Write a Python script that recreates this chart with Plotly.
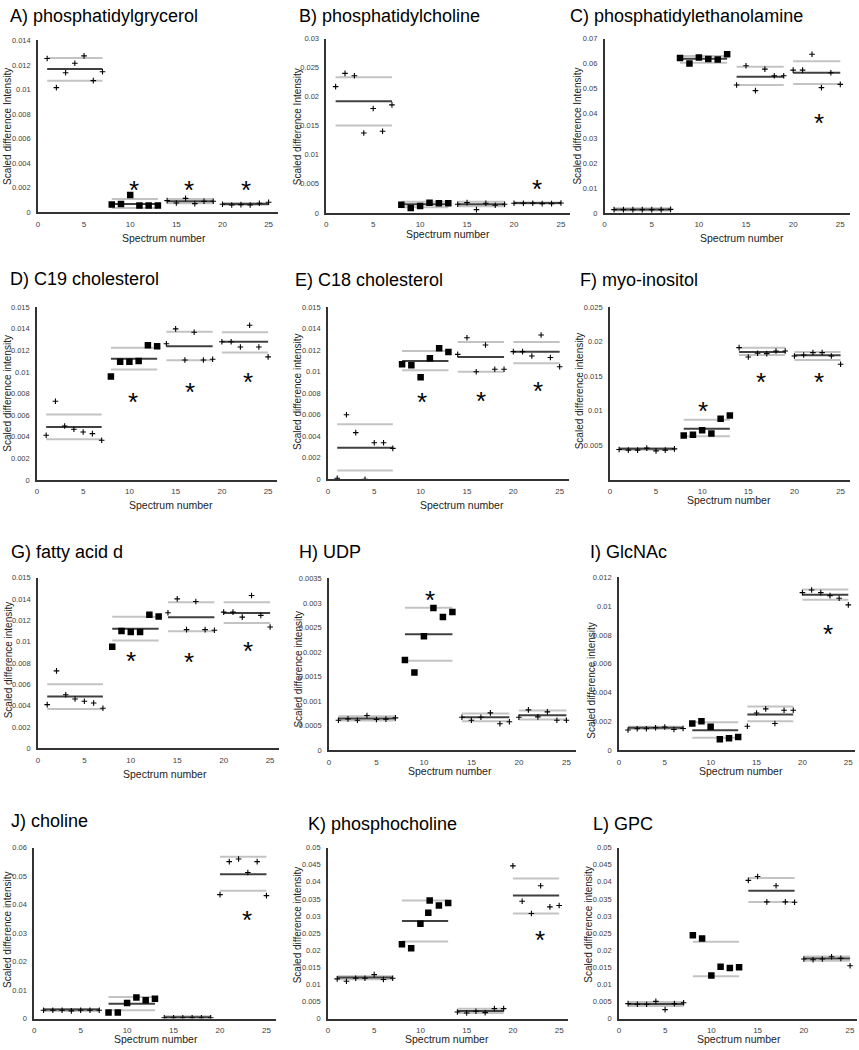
import plotly.graph_objects as go

# spectrum numbers and group boundaries
spectrum = [1, 2, 3, 4, 5, 6, 7, 8, 9, 10, 11, 12, 13,
            14, 15, 16, 17, 18, 19, 20, 21, 22, 23, 24, 25]
group_start = [1, 8, 14, 20]
group_end = [7, 13, 19, 25]

# A) phosphatidylgrycerol
pg = [0.01252, 0.01015, 0.01136, 0.01214, 0.01274, 0.01072, 0.01144,
      0.00062, 0.00067, 0.00140, 0.00054, 0.00054, 0.00054,
      0.00094, 0.00075, 0.00113, 0.00070, 0.00089, 0.00089,
      0.00065, 0.00059, 0.00062, 0.00059, 0.00073, 0.00081]
pg_mean = [0.01166, 0.00067, 0.00089, 0.00067]
pg_hi = [0.01257, 0.00108, 0.00108, 0.00075]
pg_lo = [0.01072, 0.00035, 0.00073, 0.00060]
pg_star_x = [10.45, 16.4, 22.5]
pg_star_y = [0.0023, 0.0023, 0.0023]

# B) phosphatidylcholine
pc = [0.02174, 0.02402, 0.02362, 0.01377, 0.01798, 0.01406, 0.01861,
      0.00142, 0.00085, 0.00120, 0.00176, 0.00165, 0.00165,
      0.00148, 0.00176, 0.00057, 0.00165, 0.00131, 0.00148,
      0.00165, 0.00165, 0.00165, 0.00160, 0.00160, 0.00170]
pc_mean = [0.01924, 0.00150, 0.00148, 0.00170]
pc_hi = [0.02334, 0.00194, 0.00194, 0.00180]
pc_lo = [0.01503, 0.00097, 0.00114, 0.00160]
pc_star_x = [22.5]
pc_star_y = [0.0052]

# C) phosphatidylethanolamine
pe = [0.00133, 0.00130, 0.00133, 0.00130, 0.00133, 0.00130, 0.00140,
      0.06228, 0.06003, 0.06242, 0.06189, 0.06162, 0.06375,
      0.05139, 0.05910, 0.04914, 0.05777, 0.05511, 0.05511,
      0.05737, 0.05737, 0.06375, 0.05033, 0.05631, 0.05166]
pe_mean = [0.00140, 0.06190, 0.05470, 0.05630]
pe_hi = [0.00186, 0.06308, 0.05870, 0.06096]
pe_lo = [0.00093, 0.06029, 0.05140, 0.05179]
pe_star_x = [22.75]
pe_star_y = [0.0385]

# D) C19 cholesterol
c19 = [0.00414, 0.00729, 0.00499, 0.00469, 0.00444, 0.00429, 0.00368,
       0.00959, 0.01094, 0.01094, 0.01103, 0.01247, 0.01238,
       0.01262, 0.01400, 0.01112, 0.01369, 0.01112, 0.01118,
       0.01280, 0.01280, 0.01232, 0.01434, 0.01232, 0.01140]
c19_mean = [0.00490, 0.01124, 0.01238, 0.01280]
c19_hi = [0.00607, 0.01225, 0.01373, 0.01369]
c19_lo = [0.00377, 0.01023, 0.01109, 0.01180]
c19_star_x = [10.43, 16.55, 22.77]
c19_star_y = [0.00781, 0.00873, 0.00965]

# E) C18 cholesterol
c18 = [0.00009, 0.00599, 0.00433, 0.00000, 0.00338, 0.00338, 0.00286,
       0.01068, 0.01059, 0.00946, 0.01124, 0.01216, 0.01182,
       0.01160, 0.01314, 0.00998, 0.01247, 0.01022, 0.01022,
       0.01185, 0.01185, 0.01145, 0.01339, 0.01130, 0.01044]
c18_mean = [0.00292, 0.01099, 0.01136, 0.01185]
c18_hi = [0.00510, 0.01191, 0.01274, 0.01274]
c18_lo = [0.00080, 0.01013, 0.00998, 0.01078]
c18_star_x = [10.11, 16.5, 22.7]
c18_star_y = [0.00771, 0.00786, 0.00875]

# F) myo-inositol
myo = [0.00436, 0.00427, 0.00427, 0.00456, 0.00417, 0.00427, 0.00446,
       0.00638, 0.00652, 0.00715, 0.00667, 0.00882, 0.00930,
       0.01914, 0.01779, 0.01832, 0.01827, 0.01866, 0.01866,
       0.01794, 0.01808, 0.01842, 0.01842, 0.01794, 0.01674]
myo_mean = [0.00446, 0.00739, 0.01851, 0.01803]
myo_hi = [0.00456, 0.00868, 0.01914, 0.01851]
myo_lo = [0.00432, 0.00628, 0.01808, 0.01736]
myo_star_x = [10.09, 16.35, 22.7]
myo_star_y = [0.01089, 0.01496, 0.01496]

# G) fatty acid d
fad = [0.00409, 0.00725, 0.00502, 0.00461, 0.00440, 0.00424, 0.00375,
       0.00951, 0.01099, 0.01090, 0.01090, 0.01251, 0.01236,
       0.01270, 0.01400, 0.01112, 0.01375, 0.01112, 0.01106,
       0.01276, 0.01276, 0.01229, 0.01431, 0.01245, 0.01137]
fad_mean = [0.00486, 0.01121, 0.01229, 0.01267]
fad_hi = [0.00601, 0.01233, 0.01369, 0.01369]
fad_lo = [0.00369, 0.01010, 0.01096, 0.01174]
fad_star_x = [10.03, 16.3, 22.64]
fad_star_y = [0.00873, 0.00867, 0.00966]

# H) UDP
udp = [0.000612, 0.000639, 0.000612, 0.000707, 0.000626, 0.000633, 0.000660,
       0.001837, 0.001581, 0.002322, 0.002894, 0.002712, 0.002813,
       0.000673, 0.000612, 0.000673, 0.000760, 0.000538, 0.000579,
       0.000673, 0.000821, 0.000680, 0.000781, 0.000612, 0.000612]
udp_mean = [0.000646, 0.002362, 0.000673, 0.000713]
udp_hi = [0.000693, 0.002900, 0.000747, 0.000808]
udp_lo = [0.000606, 0.001824, 0.000592, 0.000626]
udp_star_x = [10.68]
udp_star_y = [0.003183]

# I) GlcNAc
glcnac = [0.00140, 0.00149, 0.00149, 0.00156, 0.00161, 0.00144, 0.00151,
          0.00186, 0.00202, 0.00163, 0.00076, 0.00083, 0.00092,
          0.00167, 0.00259, 0.00287, 0.00186, 0.00278, 0.00278,
          0.01094, 0.01112, 0.01094, 0.01073, 0.01055, 0.01009]
glcnac_mean = [0.00156, 0.00138, 0.00248, 0.01080]
glcnac_hi = [0.00163, 0.00195, 0.00303, 0.01115]
glcnac_lo = [0.00149, 0.00087, 0.00202, 0.01044]
glcnac_star_x = [22.83]
glcnac_star_y = [0.00849]

# J) choline
cho = [0.00290, 0.00290, 0.00290, 0.00270, 0.00290, 0.00290, 0.00290,
       0.00209, 0.00209, 0.00545, 0.00743, 0.00638, 0.00696,
       0.00030, 0.00030, 0.00030, 0.00030, 0.00030, 0.00030,
       0.04352, 0.05512, 0.05605, 0.05129, 0.05512, 0.04317]
cho_mean = [0.00313, 0.00522, 0.00045, 0.05071]
cho_hi = [0.00337, 0.00754, 0.00080, 0.05686]
cho_lo = [0.00267, 0.00290, 0.00010, 0.04491]
cho_star_x = [22.96]
cho_star_y = [0.03656]

# K) phosphocholine (one extra square sits just left of spectrum 11)
pcho = [0.01160, 0.01093, 0.01180, 0.01180, 0.01286, 0.01141, 0.01180,
        0.02176, 0.02060, 0.02776, 0.03453, 0.03308, 0.03385,
        0.00193, 0.00164, 0.00213, 0.00174, 0.00290, 0.00290,
        0.04468, 0.03433, 0.03075, 0.03888, 0.03269, 0.03308]
pcho_extra_x = [10.85]
pcho_extra_y = [0.03095]
pcho_mean = [0.01199, 0.02853, 0.00222, 0.03598]
pcho_hi = [0.01238, 0.03453, 0.00290, 0.04100]
pcho_lo = [0.01151, 0.02253, 0.00164, 0.03075]
pcho_star_x = [22.91]
pcho_star_y = [0.02466]

# L) GPC
gpc = [0.00435, 0.00416, 0.00416, 0.00503, 0.00261, 0.00435, 0.00464,
       0.02437, 0.02340, 0.01257, 0.01518, 0.01480, 0.01499,
       0.04043, 0.04159, 0.03414, 0.03888, 0.03414, 0.03404,
       0.01741, 0.01721, 0.01741, 0.01809, 0.01760, 0.01547]
gpc_mean = [0.00426, None, 0.03743, 0.01760]
gpc_hi = [0.00484, 0.02244, 0.04110, 0.01818]
gpc_lo = [0.00368, 0.01238, 0.03414, 0.01692]
gpc_star_x = []
gpc_star_y = []

# y tick values and labels
ticks_014 = [0, 0.002, 0.004, 0.006, 0.008, 0.01, 0.012, 0.014]
labels_014 = ["0", "0.002", "0.004", "0.006", "0.008", "0.01", "0.012", "0.014"]
ticks_016 = [0, 0.002, 0.004, 0.006, 0.008, 0.01, 0.012, 0.014, 0.016]
labels_016 = ["0", "0.002", "0.004", "0.006", "0.008", "0.01", "0.012", "0.014", "0.015"]
ticks_03 = [0, 0.005, 0.01, 0.015, 0.02, 0.025, 0.03]
labels_03 = ["0", "0.005", "0.01", "0.015", "0.02", "0.025", "0.03"]
ticks_07 = [0, 0.01, 0.02, 0.03, 0.04, 0.05, 0.06, 0.07]
labels_07 = ["0", "0.01", "0.02", "0.03", "0.04", "0.05", "0.06", "0.07"]
ticks_025 = [0.005, 0.01, 0.015, 0.02, 0.025]
labels_025 = ["0.005", "0.01", "0.015", "0.02", "0.025"]
ticks_0035 = [0, 0.0005, 0.001, 0.0015, 0.002, 0.0025, 0.003, 0.0035]
labels_0035 = ["0", "0.0005", "0.001", "0.0015", "0.002", "0.0025", "0.003", "0.0035"]
ticks_012 = [0, 0.002, 0.004, 0.006, 0.008, 0.01, 0.012]
labels_012 = ["0", "0.002", "0.004", "0.006", "0.008", "0.01", "0.012"]
ticks_06 = [0, 0.01, 0.02, 0.03, 0.04, 0.05, 0.06]
labels_06 = ["0", "0.01", "0.02", "0.03", "0.04", "0.05", "0.06"]
ticks_05 = [0, 0.005, 0.01, 0.015, 0.02, 0.025, 0.03, 0.035, 0.04, 0.045, 0.05]
labels_05 = ["0", "0.005", "0.01", "0.015", "0.02", "0.025", "0.03", "0.035", "0.04", "0.045", "0.05"]
xticks = [0, 5, 10, 15, 20, 25]

W, H = 859, 1050
FONT = "Liberation Sans, Arial, sans-serif"
YT_UP = "Scaled difference Intensity"
YT_LO = "Scaled difference intensity"

# panel geometry in pixels: x of value 0 / unit width / x max, y of top / bottom
panels = [
    dict(t="A) phosphatidylgrycerol", y=pg, m=pg_mean, hi=pg_hi, lo=pg_lo, sx=pg_star_x, sy=pg_star_y,
         x0=36, u=9.25, xm=26, yt=36.7, yb=210, ymax=0.014, tv=ticks_014, tt=labels_014,
         ytitle=YT_UP, ytp=(6, 123), xtp=(162, 236), tp=(6, 12)),
    dict(t="B) phosphatidylcholine", y=pc, m=pc_mean, hi=pc_hi, lo=pc_lo, sx=pc_star_x, sy=pc_star_y,
         x0=325, u=9.41, xm=26, yt=35, yb=210.7, ymax=0.03, tv=ticks_03, tt=labels_03,
         ytitle=YT_UP, ytp=(297, 124), xtp=(447, 232), tp=(296, 12)),
    dict(t="C) phosphatidylethanolamine", y=pe, m=pe_mean, hi=pe_hi, lo=pe_lo, sx=pe_star_x, sy=pe_star_y,
         x0=604, u=9.45, xm=26, yt=35, yb=210.7, ymax=0.07, tv=ticks_07, tt=labels_07,
         ytitle=YT_UP, ytp=(577, 123), xtp=(742, 236), tp=(567, 12)),
    dict(t="D) C19 cholesterol", y=c19, m=c19_mean, hi=c19_hi, lo=c19_lo, sx=c19_star_x, sy=c19_star_y,
         x0=35, u=9.27, xm=26, yt=305.9, yb=480, ymax=0.016, tv=ticks_016, tt=labels_016,
         ytitle=YT_LO, ytp=(6, 392), xtp=(169, 505), tp=(6, 277)),
    dict(t="E) C18 cholesterol", y=c18, m=c18_mean, hi=c18_hi, lo=c18_lo, sx=c18_star_x, sy=c18_star_y,
         x0=326.7, u=9.29, xm=26, yt=305.6, yb=479.3, ymax=0.016, tv=ticks_016, tt=labels_016,
         ytitle=YT_LO, ytp=(296, 391), xtp=(461, 505), tp=(292, 278)),
    dict(t="F) myo-inositol", y=myo, m=myo_mean, hi=myo_hi, lo=myo_lo, sx=myo_star_x, sy=myo_star_y,
         x0=609.3, u=9.25, xm=26, yt=305.9, yb=479.7, ymax=0.025, tv=ticks_025, tt=labels_025,
         ytitle=YT_LO, ytp=(579, 390), xtp=(729, 500), tp=(577, 278)),
    dict(t="G) fatty acid d", y=fad, m=fad_mean, hi=fad_hi, lo=fad_lo, sx=fad_star_x, sy=fad_star_y,
         x0=36, u=9.31, xm=26, yt=578.5, yb=750.7, ymax=0.016, tv=ticks_016, tt=labels_016,
         ytitle=YT_LO, ytp=(6, 661), xtp=(163, 777), tp=(7, 553)),
    dict(t="H) UDP", y=udp, m=udp_mean, hi=udp_hi, lo=udp_lo, sx=udp_star_x, sy=udp_star_y,
         x0=327.7, u=9.52, xm=26, yt=579.3, yb=752.7, ymax=0.0035, tv=ticks_0035, tt=labels_0035,
         ytitle=YT_LO, ytp=(297, 671), xtp=(449, 774), tp=(296, 553)),
    dict(t="I) GlcNAc", y=glcnac, m=glcnac_mean, hi=glcnac_hi, lo=glcnac_lo, sx=glcnac_star_x, sy=glcnac_star_y,
         x0=618.3, u=9.2, xm=25.7, yt=578.3, yb=752.7, ymax=0.012, tv=ticks_012, tt=labels_012,
         ytitle=YT_LO, ytp=(591, 682), xtp=(741, 774), tp=(587, 553)),
    dict(t="J) choline", y=cho, m=cho_mean, hi=cho_hi, lo=cho_lo, sx=cho_star_x, sy=cho_star_y,
         x0=32.3, u=9.31, xm=26, yt=851, yb=1023.3, ymax=0.06, tv=ticks_06, tt=labels_06,
         ytitle=YT_LO, ytp=(5, 933), xtp=(154, 1044), tp=(7, 824)),
    dict(t="K) phosphocholine", y=pcho, m=pcho_mean, hi=pcho_hi, lo=pcho_lo, sx=pcho_star_x, sy=pcho_star_y,
         ex=pcho_extra_x, ey=pcho_extra_y,
         x0=326.7, u=9.27, xm=26, yt=851, yb=1023.3, ymax=0.05, tv=ticks_05, tt=labels_05,
         ytitle=YT_LO, ytp=(296, 929), xtp=(446, 1044), tp=(305, 827)),
    dict(t="L) GPC", y=gpc, m=gpc_mean, hi=gpc_hi, lo=gpc_lo, sx=gpc_star_x, sy=gpc_star_y,
         x0=618.3, u=9.27, xm=25.7, yt=851, yb=1023.3, ymax=0.05, tv=ticks_05, tt=labels_05,
         ytitle=YT_LO, ytp=(587, 928), xtp=(739, 1044), tp=(590, 827)),
]


def seg(levels):
    xs, ys = [], []
    for s, e, v in zip(group_start, group_end, levels):
        if v is None:
            continue
        xs += [s, e, None]
        ys += [v, v, None]
    return xs, ys


# square markers for spectra 8-13, thin plus signs elsewhere
is_sq = [8 <= s <= 13 for s in spectrum]
plus_x = [s for s, q in zip(spectrum, is_sq) if not q]
sq_x = [s for s, q in zip(spectrum, is_sq) if q]

fig = go.Figure()
annotations = []
for i, p in enumerate(panels):
    n = "" if i == 0 else str(i + 1)
    xa, ya = "x" + n, "y" + n
    sd_x, sd_y = seg(p["hi"])
    lo_x, lo_y = seg(p["lo"])
    fig.add_trace(go.Scatter(x=sd_x + lo_x, y=sd_y + lo_y, mode="lines",
                             line=dict(color="#c3c3c3", width=2), xaxis=xa, yaxis=ya,
                             showlegend=False, hoverinfo="skip"))
    mx, my = seg(p["m"])
    fig.add_trace(go.Scatter(x=mx, y=my, mode="lines",
                             line=dict(color="#404040", width=2), xaxis=xa, yaxis=ya,
                             showlegend=False, hoverinfo="skip"))
    fig.add_trace(go.Scatter(x=plus_x, y=[v for v, q in zip(p["y"], is_sq) if not q],
                             mode="markers",
                             marker=dict(symbol="cross-thin", size=4, color="black",
                                         line=dict(width=1.1, color="black")),
                             xaxis=xa, yaxis=ya, showlegend=False))
    fig.add_trace(go.Scatter(x=sq_x + p.get("ex", []),
                             y=[v for v, q in zip(p["y"], is_sq) if q] + p.get("ey", []),
                             mode="markers",
                             marker=dict(symbol="square", size=6.5, color="black",
                                         line=dict(width=0)),
                             xaxis=xa, yaxis=ya, showlegend=False))
    for sx, sy in zip(p["sx"], p["sy"]):
        annotations.append(dict(x=sx, y=sy, xref=xa, yref=ya, text="*", showarrow=False,
                                font=dict(size=26, color="black", family=FONT),
                                xanchor="center", yanchor="middle", yshift=-6))

    x1 = p["x0"] + p["u"] * p["xm"]
    fig.layout["xaxis" + n] = dict(
        domain=[p["x0"] / W, x1 / W], anchor=ya, range=[0, p["xm"]],
        tickvals=xticks, showline=True, linecolor="#333333", linewidth=1.5,
        showgrid=False, zeroline=False, ticks="", ticklabelstandoff=3,
        ticklabeloverflow="allow",
        tickfont=dict(size=8, color="#404040", family=FONT))
    fig.layout["yaxis" + n] = dict(
        domain=[1 - p["yb"] / H, 1 - p["yt"] / H], anchor=xa, range=[0, p["ymax"]],
        tickvals=p["tv"], ticktext=p["tt"], showline=True, linecolor="#333333",
        linewidth=1.5, showgrid=False, zeroline=False, ticks="", ticklabelstandoff=4,
        ticklabeloverflow="allow",
        tickfont=dict(size=7.5, color="#404040", family=FONT))

    annotations.append(dict(x=p["tp"][0] / W, y=1 - p["tp"][1] / H, xref="paper", yref="paper",
                            text=p["t"], showarrow=False, xanchor="left", yanchor="middle",
                            font=dict(size=18, color="black", family=FONT)))
    annotations.append(dict(x=p["ytp"][0] / W, y=1 - p["ytp"][1] / H, xref="paper", yref="paper",
                            text=p["ytitle"], textangle=-90, showarrow=False,
                            xanchor="center", yanchor="middle",
                            font=dict(size=10, color="#222222", family=FONT)))
    annotations.append(dict(x=p["xtp"][0] / W, y=1 - p["xtp"][1] / H, xref="paper", yref="paper",
                            text="Spectrum number", showarrow=False,
                            xanchor="center", yanchor="middle", borderpad=0,
                            font=dict(size=10.5, color="#222222", family=FONT)))

fig.update_layout(width=W, height=H, margin=dict(l=0, r=0, t=0, b=0),
                  paper_bgcolor="white", plot_bgcolor="white",
                  annotations=annotations, font=dict(family=FONT))

# the page body keeps the browser's default margin otherwise
fig.write_html("out.html", config={"displayModeBar": False},
               post_script="document.body.style.margin = '0';")
